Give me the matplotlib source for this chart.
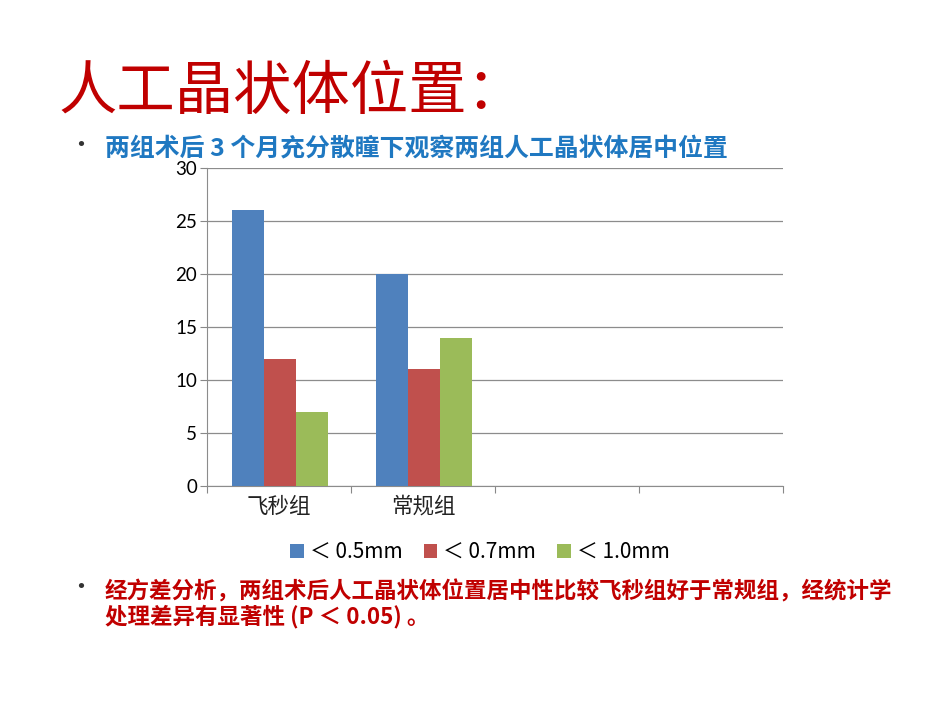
import matplotlib
matplotlib.use("Agg")
import matplotlib.pyplot as plt
import numpy as np

plt.rcParams['font.family'] = ['Noto Sans CJK SC', 'DejaVu Sans']

categories = ["飞秒组", "常规组", "", ""]
series_names = ["＜ 0.5mm", "＜ 0.7mm", "＜ 1.0mm"]
s05 = [26, 20]
s07 = [12, 11]
s10 = [7, 14]
series_values = [s05, s07, s10]
colors = ["#4F81BD", "#C0504D", "#9BBB59"]
yticks = [0, 5, 10, 15, 20, 25, 30]

fig = plt.figure(figsize=(9.5, 7.13), dpi=100)
fig.patch.set_facecolor("white")

ax = fig.add_axes([207/950, 1-486/713, (783-207)/950, (486-168)/713])

n_cat = len(categories)
bw = 0.222
for i, (vals, c, name) in enumerate(zip(series_values, colors, series_names)):
    x = np.arange(len(vals)) + 0.51 + (i - 1) * bw
    ax.bar(x, vals, width=bw, color=c, label=name, zorder=3, linewidth=0)

ax.set_xlim(0, n_cat)
ax.set_ylim(0, 30)
ax.set_yticks(yticks)
ax.set_yticklabels([str(v) for v in yticks], family=['Lato', 'DejaVu Sans'], fontsize=13.5)
ax.set_xticks(np.arange(n_cat + 1))
ax.set_xticklabels([])
ax.set_xticks(np.arange(n_cat) + 0.5, minor=True)
ax.set_xticklabels(categories, minor=True, fontsize=15.5, color="#222222",
                   family=['Noto Sans CJK SC'], fontweight='light')
ax.tick_params(axis='x', which='minor', length=0, pad=7)
ax.tick_params(axis='x', which='major', length=5, color="#888888")
ax.tick_params(axis='y', length=5, color="#888888", pad=2)
ax.grid(axis='y', color="#8C8C8C", linewidth=0.9, zorder=0)
for s in ["top", "right"]:
    ax.spines[s].set_visible(False)
ax.spines["left"].set_color("#8C8C8C")
ax.spines["bottom"].set_color("#8C8C8C")

leg = fig.legend(loc="center", bbox_to_anchor=(480/950, 1-552/713), ncol=3, frameon=False,
                 handlelength=0.65, handleheight=0.65, handletextpad=0.3,
                 columnspacing=1.0, prop={'family': ['Noto Sans CJK SC', 'DejaVu Sans'], 'size': 15})

fig.text(58/950, 1-93/713, "人工晶状体位置：", fontsize=42, color="#C00000",
         fontweight='medium', va='center', ha='left')
fig.text(68/950, 1-146/713, "•", fontsize=18, color="#333333", va='center', ha='left')
fig.text(105/950, 1-148/713, "两组术后 3 个月充分散瞳下观察两组人工晶状体居中位置", fontsize=17.9,
         color="#1F78C1", fontweight='bold', va='center', ha='left')
fig.text(68/950, 1-588/713, "•", fontsize=18, color="#333333", va='center', ha='left')
fig.text(105/950, 1-592/713, "经方差分析，两组术后人工晶状体位置居中性比较飞秒组好于常规组，经统计学",
         fontsize=16.2, color="#C00000", fontweight='bold', va='center', ha='left')
fig.text(105/950, 1-616/713, "处理差异有显著性 (P ＜ 0.05) 。",
         fontsize=16.2, color="#C00000", fontweight='bold', va='center', ha='left')

fig.savefig("out.png", dpi=100, facecolor="white")
